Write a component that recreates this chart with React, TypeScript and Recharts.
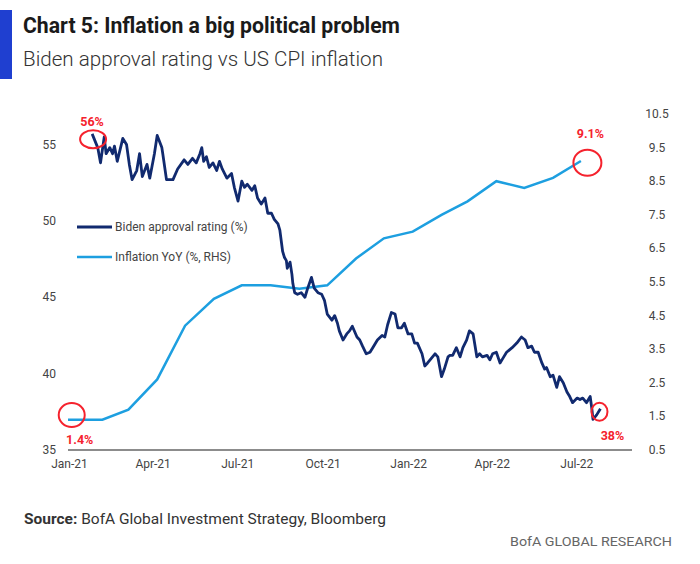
import React from "react";
import { Line, LineChart, ReferenceDot, XAxis, YAxis } from "recharts";

// days are counted from 1 Jan 2021
const approvalSeries: [number, number][] = [
  [19, 55.7], [25, 54.8], [28, 53.8], [32, 55.5], [34, 54.4], [38, 54.8], [41, 54.4],
  [43, 54.9], [46, 53.9], [52, 55.4], [56, 55.0], [59, 53.7], [62, 52.7], [67, 53.3],
  [70, 54.4], [73, 52.9], [78, 53.7], [81, 52.8], [86, 54.4], [89, 55.6], [94, 54.8],
  [95, 54.4], [99, 52.7], [106, 52.7], [111, 53.4], [118, 54.0], [122, 53.7], [127, 54.1],
  [131, 53.8], [135, 54.4], [137, 54.8], [139, 53.9], [142, 54.2], [145, 53.5], [149, 53.8],
  [153, 53.3], [156, 53.9], [159, 53.4], [164, 52.8], [169, 53.1], [172, 52.2], [176, 51.3],
  [180, 52.6], [183, 52.2], [186, 52.4], [191, 52.0], [194, 52.3], [197, 51.5], [201, 51.1],
  [205, 51.5], [208, 50.5], [212, 50.5], [215, 50.1], [219, 49.8], [221, 49.4], [224, 48.0],
  [226, 47.6], [228, 47.4], [229, 46.9], [232, 47.3], [234, 46.5], [235, 45.9], [237, 45.3],
  [240, 45.2], [244, 45.3], [248, 45.0], [251, 45.6], [255, 46.3], [258, 45.6], [262, 45.3],
  [266, 45.2], [269, 44.8], [272, 43.9], [277, 43.5], [280, 43.8], [283, 43.3], [285, 42.8],
  [289, 42.2], [293, 42.6], [296, 42.8], [299, 43.1], [304, 42.4], [307, 42.2], [310, 41.8],
  [314, 41.3], [318, 41.4], [321, 41.7], [326, 42.2], [331, 42.5], [334, 42.4], [337, 43.2],
  [341, 44.0], [345, 43.9], [348, 43.0], [352, 43.0], [355, 43.3], [359, 42.6], [363, 42.6],
  [366, 42.0], [369, 42.0], [374, 41.3], [377, 40.5], [380, 40.7], [384, 41.0], [388, 41.3],
  [391, 41.1], [395, 39.8], [398, 40.3], [402, 41.1], [404, 41.2], [407, 41.2], [411, 41.7],
  [415, 41.1], [418, 41.7], [422, 42.2], [425, 42.8], [429, 42.6], [433, 41.1], [436, 41.3],
  [439, 41.1], [444, 41.2], [447, 40.9], [450, 41.3], [454, 41.4], [458, 40.7], [461, 41.0],
  [465, 41.4], [471, 41.7], [476, 42.0], [481, 42.4], [485, 42.2], [488, 41.7], [492, 41.8],
  [495, 41.4], [499, 41.4], [503, 40.7], [506, 40.3], [508, 40.4], [512, 39.8], [515, 39.9],
  [519, 39.1], [522, 39.8], [526, 39.4], [530, 38.8], [533, 38.5], [536, 38.1], [541, 38.4],
  [544, 38.3], [547, 38.4], [551, 38.1], [555, 38.5], [557, 37.6], [558, 37.0], [562, 37.3],
  [566, 37.7],
];

// CPI YoY, Dec-20 .. Jun-22, plotted at month end
const cpiDays = [-7, 30, 58, 89, 119, 150, 180, 211, 242, 272, 303, 333, 364, 395, 423, 454, 484, 515, 545];
const cpiValues = [1.4, 1.4, 1.7, 2.6, 4.2, 5.0, 5.4, 5.4, 5.3, 5.4, 6.2, 6.8, 7.0, 7.5, 7.9, 8.5, 8.3, 8.6, 9.1];

const xTicks = [0, 90, 181, 273, 365, 455, 546];
const xTickLabels = ["Jan-21", "Apr-21", "Jul-21", "Oct-21", "Jan-22", "Apr-22", "Jul-22"];
const leftTicks = [35, 40, 45, 50, 55];
const rightTicks = [0.5, 1.5, 2.5, 3.5, 4.5, 5.5, 6.5, 7.5, 8.5, 9.5, 10.5];

const approvalData = approvalSeries.map(([day, pct]) => ({ day, approval: pct }));
const cpiData = cpiDays.map((day, i) => ({ day, cpi: cpiValues[i] }));

const NAVY = "#112a6f";
const SKY = "#1d9fe0";
const RED = "#f5222d";
const FONT = "'Liberation Sans Narrow', Roboto, Arial, sans-serif";

function XTick({ x, y, payload }: any) {
  const i = xTicks.indexOf(payload.value);
  return (
    <text x={x - 5} y={y + 16} textAnchor="middle" fontSize={12} fill="#444" fontFamily={FONT}>
      {xTickLabels[i]}
    </text>
  );
}

function LeftTick({ x, y, payload }: any) {
  return (
    <text x={x} y={y + 4} textAnchor="end" fontSize={12} fill="#444" fontFamily={FONT}>
      {payload.value}
    </text>
  );
}

function RightTick({ x, y, payload }: any) {
  return (
    <text x={x + 11} y={y + 4} textAnchor="middle" fontSize={12} fill="#444" fontFamily={FONT}>
      {payload.value}
    </text>
  );
}

function ringShape(rx: number, ry: number, label: string, dx: number, dy: number) {
  return (p: any) => (
    <g>
      <ellipse cx={p.cx} cy={p.cy} rx={rx} ry={ry} fill="none" stroke={RED} strokeWidth={2} />
      <text
        x={p.cx + dx}
        y={p.cy + dy}
        textAnchor="middle"
        fontSize={12.5}
        fontWeight="bold"
        fill={RED}
        fontFamily={FONT}
      >
        {label}
      </text>
    </g>
  );
}

export default function App() {
  return (
    <div
      style={{
        position: "absolute",
        left: 0,
        top: 0,
        width: 700,
        height: 564,
        background: "#fff",
        overflow: "hidden",
      }}
    >
      <LineChart width={700} height={564} margin={{ top: 114, right: 18, bottom: 84, left: 28 }}>
        <XAxis
          dataKey="day"
          type="number"
          domain={[-7, 600]}
          ticks={xTicks}
          tick={<XTick />}
          tickLine={false}
          tickSize={0}
          axisLine={{ stroke: "#8c8c8c", strokeWidth: 2 }}
          height={30}
          allowDataOverflow
        />
        <YAxis
          yAxisId="left"
          domain={[35, 57]}
          ticks={leftTicks}
          tick={<LeftTick />}
          axisLine={false}
          tickLine={false}
          tickSize={0}
          tickMargin={12}
          width={40}
        />
        <YAxis
          yAxisId="right"
          orientation="right"
          domain={[0.5, 10.5]}
          ticks={rightTicks}
          tick={<RightTick />}
          axisLine={false}
          tickLine={false}
          tickSize={0}
          tickMargin={14}
          width={50}
        />
        <Line
          yAxisId="right"
          data={cpiData}
          dataKey="cpi"
          type="linear"
          stroke={SKY}
          strokeWidth={2.5}
          dot={false}
          isAnimationActive={false}
        />
        <Line
          yAxisId="left"
          data={approvalData}
          dataKey="approval"
          type="linear"
          stroke={NAVY}
          strokeWidth={2.8}
          strokeLinejoin="round"
          dot={false}
          isAnimationActive={false}
        />
        <ReferenceDot yAxisId="left" x={20} y={55.35} r={10} shape={ringShape(13, 9, "56%", -1, -13)} />
        <ReferenceDot yAxisId="right" x={552} y={9.05} r={10} shape={ringShape(14, 13, "9.1%", 3, -25)} />
        <ReferenceDot yAxisId="right" x={-3} y={1.54} r={10} shape={ringShape(13, 12, "1.4%", 8, 29)} />
        <ReferenceDot yAxisId="left" x={565} y={37.5} r={10} shape={ringShape(8, 9, "38%", 13, 28)} />
      </LineChart>

      <svg
        width={700}
        height={564}
        style={{ position: "absolute", left: 0, top: 0, pointerEvents: "none" }}
      >
        <rect x={0} y={10} width={12} height={69} fill="#1f3fd0" />
        <text
          x={23}
          y={33}
          fontSize={22}
          fontWeight="bold"
          fill="#1a1a1a"
          fontFamily={FONT}
          textLength={377}
          lengthAdjust="spacingAndGlyphs"
        >
          Chart 5: Inflation a big political problem
        </text>
        <text
          x={23}
          y={66}
          fontSize={21}
          fontWeight={300}
          fill="#333"
          fontFamily={FONT}
          textLength={360}
          lengthAdjust="spacingAndGlyphs"
        >
          Biden approval rating vs US CPI inflation
        </text>

        <line x1={77} y1={227} x2={112} y2={227} stroke={NAVY} strokeWidth={2.8} />
        <text x={115} y={231} fontSize={12} fill="#444" fontFamily={FONT}>
          Biden approval rating (%)
        </text>
        <line x1={77} y1={257} x2={112} y2={257} stroke={SKY} strokeWidth={2.5} />
        <text x={115} y={261} fontSize={12} fill="#444" fontFamily={FONT}>
          Inflation YoY (%, RHS)
        </text>

        <text
          x={24}
          y={524}
          fontSize={14}
          fill="#333"
          fontFamily={FONT}
          textLength={362}
          lengthAdjust="spacingAndGlyphs"
        >
          <tspan fontWeight="bold">Source:</tspan> BofA Global Investment Strategy, Bloomberg
        </text>
        <text
          x={510}
          y={546}
          fontSize={13.5}
          fill="#666"
          fontFamily={FONT}
          textLength={162}
          lengthAdjust="spacingAndGlyphs"
        >
          BofA GLOBAL RESEARCH
        </text>
      </svg>
    </div>
  );
}
